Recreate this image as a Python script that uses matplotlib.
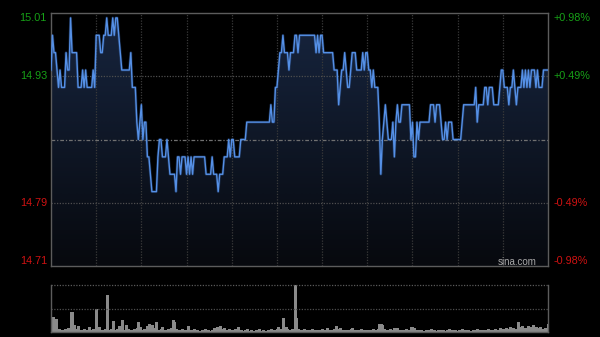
import matplotlib
matplotlib.use('Agg')
import matplotlib.pyplot as plt
import matplotlib.transforms as mtransforms
import numpy as np
from matplotlib.colors import LinearSegmentedColormap

plt.rcParams['font.family'] = ['Liberation Sans', 'DejaVu Sans']

# intraday data, one point per minute (HK session 09:30-12:00, 13:00-16:00)
prev_close = 14.86
pct_range = 0.98
pct_grid = 0.49

prices = [
    14.94, 14.98, 14.96, 14.96, 14.94, 14.92, 14.94, 14.92, 14.92, 14.92, 14.96, 14.94, 14.94, 15.00, 14.96, 14.96, 14.96, 14.96, 14.92, 14.92,
    14.92, 14.94, 14.92, 14.94, 14.92, 14.92, 14.92, 14.92, 14.94, 14.92, 14.98, 14.98, 14.98, 14.96, 14.96, 14.98, 14.98, 15.00, 14.98, 14.98,
    14.98, 15.00, 14.98, 15.00, 15.00, 14.98, 14.96, 14.94, 14.94, 14.94, 14.94, 14.94, 14.94, 14.96, 14.92, 14.92, 14.92, 14.88, 14.86, 14.88,
    14.90, 14.86, 14.88, 14.88, 14.84, 14.84, 14.82, 14.80, 14.80, 14.80, 14.80, 14.84, 14.86, 14.86, 14.84, 14.84, 14.84, 14.86, 14.84, 14.82,
    14.82, 14.82, 14.82, 14.80, 14.84, 14.84, 14.82, 14.84, 14.84, 14.84, 14.82, 14.84, 14.82, 14.84, 14.82, 14.84, 14.84, 14.84, 14.84, 14.84,
    14.84, 14.84, 14.84, 14.82, 14.82, 14.82, 14.82, 14.84, 14.82, 14.82, 14.82, 14.80, 14.82, 14.82, 14.82, 14.84, 14.84, 14.84, 14.86, 14.84,
    14.86, 14.86, 14.84, 14.84, 14.84, 14.84, 14.86, 14.86, 14.86, 14.86, 14.88, 14.88, 14.88, 14.88, 14.88, 14.88, 14.88, 14.88, 14.88, 14.88,
    14.88, 14.88, 14.88, 14.88, 14.88, 14.88, 14.90, 14.88, 14.88, 14.92, 14.92, 14.94, 14.96, 14.96, 14.98, 14.96, 14.96, 14.96, 14.94, 14.96,
    14.96, 14.96, 14.98, 14.98, 14.96, 14.98, 14.98, 14.98, 14.98, 14.98, 14.98, 14.98, 14.98, 14.98, 14.98, 14.98, 14.96, 14.98, 14.96, 14.98,
    14.98, 14.96, 14.96, 14.96, 14.96, 14.96, 14.96, 14.96, 14.94, 14.94, 14.94, 14.90, 14.92, 14.94, 14.94, 14.96, 14.94, 14.92, 14.92, 14.94,
    14.96, 14.96, 14.96, 14.94, 14.94, 14.94, 14.94, 14.96, 14.94, 14.96, 14.96, 14.94, 14.94, 14.92, 14.94, 14.92, 14.92, 14.92, 14.88, 14.82,
    14.86, 14.88, 14.90, 14.88, 14.86, 14.86, 14.86, 14.88, 14.84, 14.88, 14.90, 14.88, 14.88, 14.90, 14.90, 14.90, 14.90, 14.90, 14.90, 14.86,
    14.88, 14.84, 14.84, 14.88, 14.86, 14.88, 14.88, 14.88, 14.88, 14.88, 14.88, 14.88, 14.90, 14.90, 14.90, 14.88, 14.90, 14.90, 14.90, 14.88,
    14.86, 14.86, 14.88, 14.86, 14.88, 14.88, 14.88, 14.86, 14.86, 14.86, 14.86, 14.86, 14.86, 14.88, 14.90, 14.90, 14.90, 14.90, 14.90, 14.90,
    14.90, 14.90, 14.92, 14.88, 14.90, 14.90, 14.90, 14.90, 14.92, 14.92, 14.90, 14.92, 14.92, 14.92, 14.90, 14.90, 14.90, 14.90, 14.92, 14.94,
    14.94, 14.92, 14.92, 14.92, 14.90, 14.92, 14.92, 14.94, 14.92, 14.90, 14.92, 14.92, 14.92, 14.94, 14.92, 14.94, 14.92, 14.94, 14.92, 14.94,
    14.94, 14.94, 14.92, 14.94, 14.92, 14.92, 14.92, 14.94, 14.94, 14.94, 14.94,
]

volumes = [
    4, 15, 3, 13, 2, 3, 2, 1, 2, 3, 2, 4, 2, 20, 20, 7, 2, 3, 6, 2,
    1, 2, 3, 1, 2, 5, 2, 1, 3, 2, 23, 3, 5, 2, 1, 2, 3, 37, 2, 1,
    3, 11, 2, 1, 3, 6, 2, 12, 1, 2, 7, 3, 1, 2, 1, 3, 2, 4, 10, 5,
    2, 1, 3, 2, 6, 8, 3, 7, 2, 4, 10, 2, 1, 3, 5, 2, 1, 2, 3, 2,
    4, 12, 10, 3, 2, 1, 2, 3, 1, 2, 2, 6, 1, 2, 1, 3, 1, 2, 1, 1,
    2, 1, 3, 1, 2, 1, 1, 2, 4, 3, 5, 2, 6, 1, 3, 4, 2, 1, 3, 2,
    1, 2, 3, 2, 5, 1, 2, 1, 1, 2, 3, 1, 1, 2, 1, 1, 2, 1, 3, 1,
    1, 2, 1, 1, 2, 1, 3, 1, 2, 2, 3, 5, 2, 3, 14, 2, 5, 3, 2, 2,
    3, 2, 47, 14, 3, 2, 1, 2, 3, 1, 2, 1, 2, 3, 1, 2, 1, 2, 1, 2,
    3, 1, 2, 4, 1, 2, 1, 2, 3, 6, 2, 3, 4, 1, 2, 1, 2, 1, 2, 3,
    4, 1, 2, 1, 2, 1, 3, 1, 2, 1, 2, 1, 2, 1, 3, 2, 1, 3, 8, 8,
    7, 3, 2, 1, 2, 3, 1, 2, 4, 4, 4, 2, 1, 2, 1, 2, 3, 1, 2, 5,
    5, 4, 2, 1, 2, 1, 2, 1, 1, 2, 1, 2, 3, 1, 2, 1, 1, 2, 1, 2,
    2, 1, 1, 2, 3, 1, 2, 1, 2, 1, 1, 2, 1, 3, 1, 2, 1, 2, 1, 1,
    2, 1, 2, 3, 1, 2, 1, 2, 1, 2, 3, 1, 2, 1, 2, 3, 1, 2, 4, 2,
    3, 2, 4, 3, 2, 5, 3, 4, 2, 3, 10, 5, 3, 6, 2, 4, 3, 6, 5, 4,
    7, 3, 5, 2, 4, 5, 3, 2, 4, 3, 8,
]

grid_minutes = [30, 60, 90, 120, 150, 180, 210, 240, 270, 300]
left_labels = ['15.01', '14.93', '14.79', '14.71']
right_labels = ['+0.98%', '+0.49%', '-0.49%', '-0.98%']

GREEN = '#17a017'
RED = '#d01212'
BORDER = '#5c5c5c'

minutes = np.arange(len(prices))
n_min = 330
hi = prev_close * (1 + pct_range / 100)
lo = prev_close * (1 - pct_range / 100)
g_hi = prev_close * (1 + pct_grid / 100)
g_lo = prev_close * (1 - pct_grid / 100)

fig = plt.figure(figsize=(6, 3.37), dpi=100, facecolor='black')
ax = fig.add_axes([51 / 600, 1 - 266 / 337, 497 / 600, 253 / 337])
axv = fig.add_axes([51 / 600, 1 - 332 / 337, 497 / 600, 47 / 337])

for a in (ax, axv):
    a.set_facecolor('black')
    a.set_xlim(0, n_min)
    a.set_xticks([])
    a.set_yticks([])
    for s in a.spines.values():
        s.set_color(BORDER)
        s.set_linewidth(1.0)

ax.set_ylim(lo, hi)

# gradient fill under the price line
poly = ax.fill_between(minutes, prices, lo, facecolor='none', edgecolor='none')
cmap = LinearSegmentedColormap.from_list('fill', ['#07090e', '#17253f'])
grad = np.linspace(0, 1, 256).reshape(-1, 1)
im = ax.imshow(grad, extent=[0, n_min, lo, hi], aspect='auto', cmap=cmap,
               origin='lower', zorder=1, interpolation='bilinear')
im.set_clip_path(poly.get_paths()[0], transform=ax.transData)

# grid
for m in grid_minutes:
    ax.axvline(m, color='#3a3a3a', lw=0.9, ls=(0, (1, 1.2)), zorder=2)
for y in (g_hi, g_lo):
    ax.axhline(y, color='#4e4e4e', lw=0.9, ls=(0, (1, 1.2)), zorder=2)
ax.axhline(prev_close, color='#707070', lw=0.9, ls=(0, (3, 1.5, 1, 1.5)), zorder=2)

# price line with soft glow
ax.plot(minutes, prices, color='#3f74c8', lw=2.0, alpha=0.3, zorder=3)
ax.plot(minutes, prices, color='#5590e6', lw=1.0, zorder=4)

# labels
trans = mtransforms.blended_transform_factory(ax.transAxes, ax.transData)
label_y = [hi, g_hi, g_lo, lo]
label_va = ['top', 'center', 'center', 'bottom']
label_col = [GREEN, GREEN, RED, RED]
for y, va, c, lt, rt in zip(label_y, label_va, label_col, left_labels, right_labels):
    ax.text(-0.008, y, lt, transform=trans, ha='right', va=va, color=c, fontsize=7.8)
    ax.text(1.0101, y, rt, transform=trans, ha='left', va=va, color=c, fontsize=7.8)

ax.text(0.978, 0.005, 'sina.com', transform=ax.transAxes, ha='right', va='baseline',
        color='#a8a8a8', fontsize=7, zorder=5)

# volume panel
vmax = max(volumes)
axv.set_ylim(0, vmax)
axv.vlines(minutes, 0, volumes, colors='#8a8a8a', lw=0.75, antialiased=False)
axv.spines['top'].set_visible(False)
axv.axhline(vmax, color='#5a5a5a', lw=0.9, ls=(0, (1, 1.2)), clip_on=False)
axv.axhline(vmax / 2, color='#4e4e4e', lw=0.9, ls=(0, (1, 1.2)))

fig.savefig('out.png', dpi=100, facecolor='black')
